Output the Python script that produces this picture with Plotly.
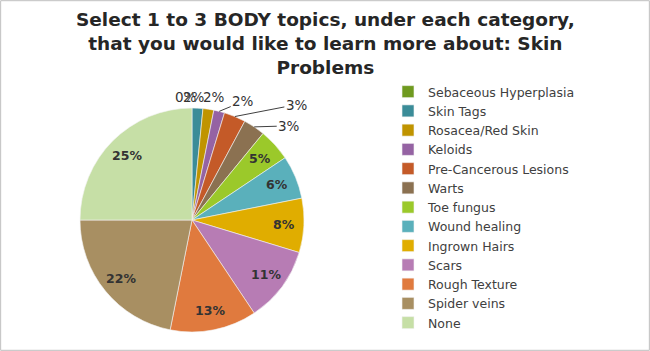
import math
import plotly.graph_objects as go

labels = ["Sebaceous Hyperplasia", "Skin Tags", "Rosacea/Red Skin", "Keloids",
          "Pre-Cancerous Lesions", "Warts", "Toe fungus", "Wound healing",
          "Ingrown Hairs", "Scars", "Rough Texture", "Spider veins", "None"]
counts = [0, 1, 1, 1, 2, 2, 3, 4, 5, 7, 8, 14, 16]
colors = ["#6f9a1f", "#3b8c98", "#c09400", "#9563a3", "#c45a28", "#8b7151",
          "#9bc92a", "#5ab0bb", "#e0ad00", "#b77cb4", "#e07a3e", "#a88f62", "#c6dfa6"]
title_text = ("Select 1 to 3 BODY topics, under each category,<br>"
              "that you would like to learn more about: Skin<br>Problems")

# figure / pie geometry (pixels)
W, H = 650, 351
PX0, PX1, PY0, PY1 = 80, 304, 19, 243   # pie domain in px (y from bottom)
cx = (PX0 + PX1) / 2
cy = H - (PY0 + PY1) / 2
R = (PX1 - PX0) / 2

# label placement style for each slice: (mode, ax, ay)
# mode "in": inside at 0.82 R ; "out": outside with offset from slice edge
label_style = [("shift", -6, -11), ("shift", -3, -11), ("shift", 6, -12),
               ("arrow", 24, -10), ("arrow", 62, -12), ("arrow", 35, -1),
               ("in", 0, 0), ("in", 0, 0), ("in", 0, 0), ("in", 0, 0),
               ("in", 0, 0), ("in", 0, 0), ("in", 0, 0)]

fig = go.Figure(go.Pie(
    labels=labels, values=counts, sort=False, direction="clockwise", rotation=0,
    marker=dict(colors=colors, line=dict(color="#f4f4f4", width=0.6)),
    textinfo="none",
    domain=dict(x=[PX0 / W, PX1 / W], y=[PY0 / H, PY1 / H]),
    hoverinfo="label+percent", showlegend=True,
))

total = sum(counts)
annotations = [dict(
    text=title_text, xref="paper", yref="paper", x=0.5, y=1 - 7 / H,
    xanchor="center", yanchor="top", showarrow=False,
    font=dict(family="DejaVu Sans", size=18.5, color="#262626", weight="bold"),
)]
cum = 0
for c, (mode, ax, ay) in zip(counts, label_style):
    mid = (cum + c / 2) / total * 2 * math.pi
    cum += c
    pct = f"{math.floor(c / total * 100 + 0.5)}%"
    if mode == "in":
        rr = 0.82 * R
        px, py = cx + rr * math.sin(mid), cy - rr * math.cos(mid)
        annotations.append(dict(
            text=pct, xref="paper", yref="paper", x=px / W, y=1 - py / H,
            xanchor="center", yanchor="middle", showarrow=False,
            font=dict(family="DejaVu Sans", size=12.5, color="#333333", weight="bold")))
    else:
        px, py = cx + R * math.sin(mid), cy - R * math.cos(mid)
        if mode == "shift":
            annotations.append(dict(
                text=pct, xref="paper", yref="paper", x=px / W, y=1 - py / H,
                xanchor="center", yanchor="middle", showarrow=False,
                xshift=ax, yshift=-ay,
                font=dict(family="DejaVu Sans", size=13.5, color="#333333")))
        else:
            annotations.append(dict(
                text=pct, xref="paper", yref="paper", x=px / W, y=1 - py / H,
                showarrow=True, ax=ax, ay=ay, arrowhead=0, arrowwidth=1,
                arrowcolor="#404040", standoff=0, startstandoff=0,
                font=dict(family="DejaVu Sans", size=13.5, color="#333333")))

fig.update_layout(
    width=W, height=H,
    margin=dict(l=0, r=0, t=0, b=0),
    paper_bgcolor="white",
    annotations=annotations,
    legend=dict(
        x=388 / W, xanchor="left", y=1 - 77 / H, yanchor="top",
        font=dict(family="DejaVu Sans", size=12.5, color="#404040"),
        tracegroupgap=0, itemwidth=30,
        traceorder="normal",
    ),
    shapes=[dict(type="rect", xref="paper", yref="paper", x0=0.001, x1=0.999, y0=0.002, y1=0.998,
                 line=dict(color="#bfbfbf", width=1))],
)

fig.write_html("out.html")
